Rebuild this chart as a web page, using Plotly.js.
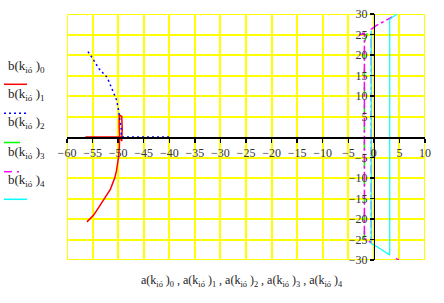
<!DOCTYPE html>
<html><head><meta charset="utf-8">
<script src="https://cdn.plot.ly/plotly-3.0.1.min.js"></script>
<style>html,body{margin:0;padding:0;background:#fff}#c{width:444px;height:303px}</style>
</head><body><div id="c"></div>
<script>
// series 0 (red)
const a0 = [-56.1,-55.44,-54.79,-54.14,-53.49,-52.84,-52.18,-51.53,-51.08,-50.69,-50.36,-50.10,-49.90,-49.77,-49.71,-49.8,-49.8,-49.3,-49.2,-49.3,-49.5,-56.4];
const b0 = [-20.7,-19.86,-19.05,-17.83,-16.61,-15.38,-14.16,-12.78,-11.31,-10.09,-8.46,-6.84,-4.80,-2.36,0.08,2.5,5.4,5.0,2.0,-1.0,0,0];
// series 1 (blue dotted)
const a1 = [-55.9,-55.44,-54.99,-54.47,-53.94,-53.29,-52.51,-51.99,-51.53,-51.08,-50.69,-50.36,-50.03,-49.90,-49.71,-49.4,-49.4,-40.0];
const b1 = [20.84,20.02,19.21,18.15,17.01,15.95,15.14,14.08,12.70,11.48,10.26,9.20,7.41,6.19,4.97,2.0,0,0];
// series 2 (green dashed)
const a2 = [-1.3,-1.6,-1.85,-1.85,-1.85,-2.4,-3.3];
const b2 = [25.3,24.3,23.0,0,-24.3,-25.0,-24.7];
// series 3 (magenta dash-dot)
const a3 = [-2.9,-1.85,-1.85,-0.5,-0.5,0.6,2.0,3.6,null,4.3,4.9];
const b3 = [24.9,25.3,-24.7,-25.8,26.3,27.3,28.2,29.3,null,-29.6,-30];
// series 4 (cyan)
const a4 = [-0.5,-0.5,0.8,2.0,3.1,3.1,3.8,4.5];
const b4 = [26.0,-26.0,-26.9,-27.8,-28.8,28.7,29.3,30.0];

const xTicks = [-60,-55,-50,-45,-40,-35,-30,-25,-20,-15,-10,-5,0,5,10];
const yTicks = [-30,-25,-20,-15,-10,-5,5,10,15,20,25,30];
const legendLabels = ['0','1','2','3','4'];

const L=67,R=19,T=14,B=43,W=444,H=303;
const pw=W-L-R, ph=H-T-B;
const px=v=>(v-L)/pw, py=v=>(H-B-v)/ph;

const traces = [
 {x:a0,y:b0,mode:'lines',line:{color:'#ff0000',width:1.5},connectgaps:false},
 {x:a1,y:b1,mode:'lines',line:{color:'#0000ff',width:1.5,dash:'2px,3px'},connectgaps:false},
 {x:a2,y:b2,mode:'lines',line:{color:'#00ff00',width:1.5,dash:'dash'},connectgaps:false},
 {x:a3,y:b3,mode:'lines',line:{color:'#ff00ff',width:1.5,dash:'dashdot'},connectgaps:false},
 {x:a4,y:b4,mode:'lines',line:{color:'#00ffff',width:1.2},connectgaps:false}
];
const tf = {family:'Liberation Serif, serif',size:12,color:'#333'};
const ann = [];
const legendBase=[74,102,130,160,188];
legendLabels.forEach((s,i)=>{
  ann.push({xref:'paper',yref:'paper',x:px(6),y:py(legendBase[i]+3),xanchor:'left',yanchor:'bottom',showarrow:false,
   text:'b(k<sub>ió</sub> )<sub>'+s+'</sub>',font:{family:'Liberation Serif, serif',size:13,color:'#222'}});
});
ann.push({xref:'paper',yref:'paper',x:px(139),y:py(291),xanchor:'left',yanchor:'bottom',showarrow:false,
  text:legendLabels.map(s=>'a(k<sub>ió</sub> )<sub>'+s+'</sub>').join(' , '),
  font:{family:'Liberation Serif, serif',size:12,color:'#222'}});
const legendLines=[
 {y:84.3,x0:4,x1:27,color:'#ff0000',dash:'solid'},
 {y:113.3,x0:4,x1:27,color:'#0000ff',dash:'2px,3px'},
 {y:142.5,x0:4,x1:20,color:'#00ff00',dash:'solid'},
 {y:171.7,x0:4,x1:12,color:'#ff00ff',dash:'solid'},
 {y:171.7,x0:17,x1:19,color:'#ff00ff',dash:'solid'},
 {y:199.3,x0:4,x1:27,color:'#00ffff',dash:'solid'}
];
const shapes = [{type:'rect',xref:'x',yref:'y',x0:-60,x1:10,y0:-30,y1:30,line:{color:'#ffff00',width:2},layer:'below'}];
legendLines.forEach(s=>shapes.push({type:'line',xref:'paper',yref:'paper',x0:px(s.x0),x1:px(s.x1),y0:py(s.y),y1:py(s.y),
  line:{color:s.color,width:1.5,dash:s.dash}}));

const layout = {
 width:W,height:H,margin:{l:L,r:R,t:T,b:B},showlegend:false,
 paper_bgcolor:'#fff',plot_bgcolor:'#fff',
 xaxis:{range:[-60,10],tickvals:xTicks,anchor:'free',position:0.5,showgrid:true,gridcolor:'#ffff00',gridwidth:2,
   zeroline:false,showline:true,linecolor:'#000',linewidth:1.5,ticks:'outside',ticklen:4,tickcolor:'#000',tickwidth:1.5,
   tickfont:tf,ticklabelstandoff:0},
 yaxis:{range:[-30,30],tickvals:yTicks,anchor:'free',position:60/70,side:'left',showgrid:true,gridcolor:'#ffff00',gridwidth:2,
   zeroline:false,showline:true,linecolor:'#000',linewidth:1.5,ticks:'outside',ticklen:4,tickcolor:'#000',tickwidth:1.5,
   tickfont:tf},
 annotations:ann,shapes:shapes
};
Plotly.newPlot('c',traces,layout,{staticPlot:true,displayModeBar:false});
</script></body></html>
